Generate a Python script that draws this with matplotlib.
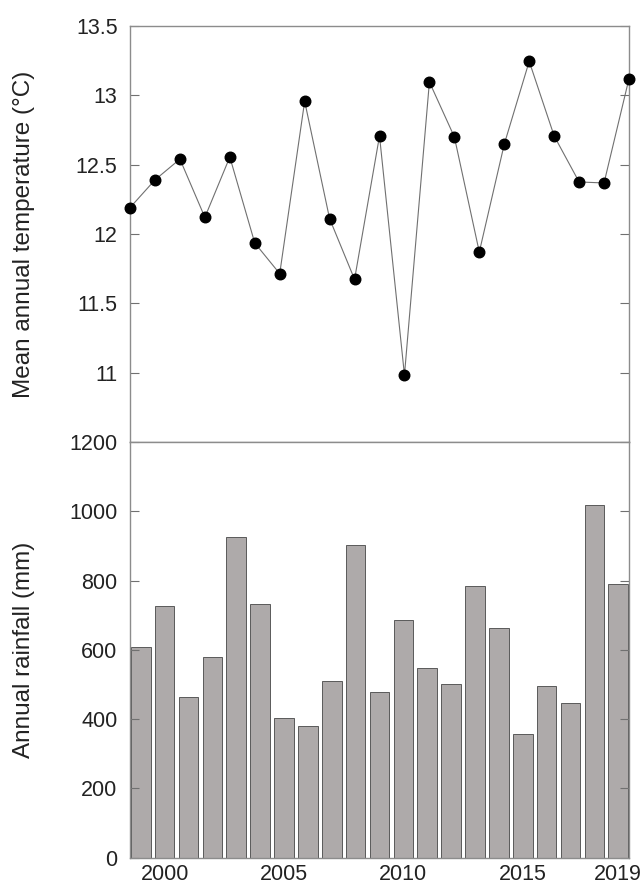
import matplotlib
matplotlib.use('Agg')
import matplotlib.pyplot as plt

plt.rcParams['font.family'] = ['Liberation Sans', 'DejaVu Sans']

years = list(range(1999, 2020))
temp = [12.19, 12.39, 12.54, 12.12, 12.555, 11.935, 11.714, 12.957, 12.11, 11.673,
        12.707, 10.983, 13.096, 12.70, 11.87, 12.647, 13.245, 12.707, 12.375, 12.368, 13.12]
rain = [609, 726, 464, 579, 926, 733, 404, 381, 509, 902,
        478, 687, 548, 500, 783, 662, 356, 495, 446, 1019, 789]

temp_ticks = [11, 11.5, 12, 12.5, 13, 13.5]
temp_ticklabels = ['11', '11.5', '12', '12.5', '13', '13.5']
rain_ticks = [0, 200, 400, 600, 800, 1000, 1200]
year_ticks = [2000, 2005, 2010, 2015, 2019]

spine_col = '#8c8c8c'
fs = 15.5

fig = plt.figure(figsize=(6.44, 8.89), dpi=100)
left, right = 0.2019, 0.9767
ax1 = fig.add_axes([left, 0.5028, right - left, 0.9708 - 0.5028])
ax2 = fig.add_axes([left, 0.0354, right - left, 0.5028 - 0.0354])

# top: temperature
ax1.plot(years, temp, color='#707070', lw=0.8, marker='o', ms=7.6,
         mfc='black', mec='black', clip_on=False, zorder=3)
ax1.set_xlim(1999, 2019)
ax1.set_ylim(10.5, 13.5)
ax1.set_yticks(temp_ticks)
ax1.set_yticklabels(temp_ticklabels)
ax1.set_xticks([])
ax1.set_ylabel('Mean annual temperature (\u00b0C)', fontsize=17.5)

# bottom: rainfall
ax2.bar(years, rain, width=0.82, color='#aeaaaa', edgecolor='#5a5a5a', linewidth=0.7)
ax2.set_xlim(1998.55, 2019.45)
ax2.set_ylim(0, 1200)
ax2.set_yticks(rain_ticks)
ax2.set_xticks(year_ticks)
ax2.set_ylabel('Annual rainfall (mm)', fontsize=17.5)

for ax in (ax1, ax2):
    for s in ax.spines.values():
        s.set_color(spine_col)
        s.set_linewidth(1.0)
    ax.tick_params(axis='y', which='both', direction='in', length=6.5, width=0.8,
                   color='#707070', left=True, right=True, labelsize=fs,
                   labelcolor='#222222', pad=9)
    ax.tick_params(axis='x', length=0, labelsize=fs, labelcolor='#222222', pad=4.5)
    ax.yaxis.set_label_coords(-0.19, 0.5)
    ax.yaxis.label.set_color('#222222')

fig.savefig('out.png', dpi=100)
